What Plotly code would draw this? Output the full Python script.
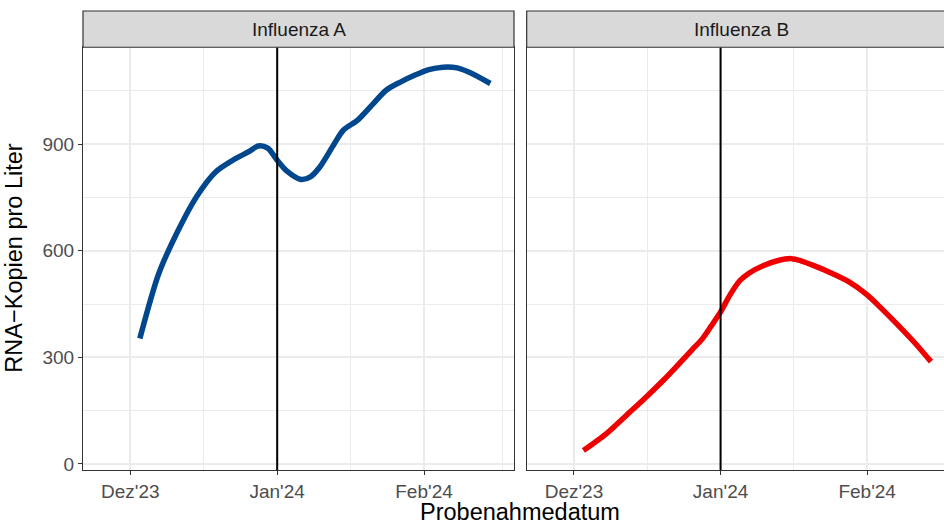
import plotly.graph_objects as go
import pandas as pd

# ---- data ----
panels = ["Influenza A", "Influenza B"]
flu_a_days = [2, 6, 10, 14, 18, 22, 25, 27, 29, 31, 33, 36, 38, 40, 43, 45, 48, 51, 54, 57, 60, 63, 66, 69, 72, 76]
flu_a_vals = [353, 536, 655, 753, 822, 858, 879, 895, 889, 855, 825, 801, 808, 836, 900, 940, 968, 1010, 1052, 1075, 1094, 1110, 1117, 1115, 1100, 1071]
flu_b_days = [2, 7, 11, 15, 19, 22, 25, 27, 29, 31, 33, 35, 37, 40, 43, 46, 48, 51, 54, 58, 62, 65, 68, 72, 75.5]
flu_b_vals = [38, 87, 136, 185, 237, 279, 322, 350, 388, 428, 476, 515, 537, 558, 572, 578, 572, 557, 540, 514, 476, 438, 398, 342, 288]
x_tick_vals = ["2023-12-01", "2024-01-01", "2024-02-01"]
x_tick_text = ["Dez'23", "Jan'24", "Feb'24"]
x_minor_vals = ["2023-12-16 12:00", "2024-01-16 12:00", "2024-02-17 12:00"]
y_tick_vals = [0, 300, 600, 900]
y_minor_vals = [150, 450, 750, 1050]
marker_date = "2024-01-01"
x_range = ["2023-11-21", "2024-02-20"]
y_range = [-17, 1173]

start = pd.Timestamp("2023-12-01")
a_dates = [start + pd.Timedelta(days=d) for d in flu_a_days]
b_dates = [start + pd.Timedelta(days=d) for d in flu_b_days]

FONT = "Liberation Sans, Arial, sans-serif"
GRID = "#EBEBEB"
BORDER = "#333333"

fig = go.Figure()
fig.add_trace(go.Scatter(x=a_dates, y=flu_a_vals, mode="lines", line=dict(color="#00478D", width=5.5, shape="spline", smoothing=0.8),
                         xaxis="x", yaxis="y", showlegend=False))
fig.add_trace(go.Scatter(x=b_dates, y=flu_b_vals, mode="lines", line=dict(color="#EE0000", width=5.5, shape="spline", smoothing=0.8),
                         xaxis="x2", yaxis="y2", showlegend=False))

# the right facet runs past the right edge of the 944 px window, as in the reference
W, H = 961, 524
L, R, T, B = 83, 4, 11, 54
pw = W - L - R
dom_left = [0, (514.0 - L) / pw]
dom_right = [(526.7 - L) / pw, 1]
ytop = 0.921

xcommon = dict(type="date", range=x_range, tickmode="array", tickvals=x_tick_vals, ticktext=x_tick_text,
               showgrid=True, gridcolor=GRID, gridwidth=1.6, zeroline=False,
               showline=True, mirror=True, linecolor=BORDER, linewidth=1.2,
               ticks="outside", ticklen=4, tickcolor=BORDER, tickwidth=1.2,
               tickfont=dict(family=FONT, size=19, color="#4D4D4D"),
               minor=dict(tickmode="array", tickvals=x_minor_vals, showgrid=True, gridcolor=GRID, gridwidth=0.8, ticks=""))
ycommon = dict(range=y_range, tickmode="array", tickvals=y_tick_vals,
               showgrid=True, gridcolor=GRID, gridwidth=1.6, zeroline=False,
               showline=True, mirror=True, linecolor=BORDER, linewidth=1.2,
               ticks="outside", ticklen=4, tickcolor=BORDER, tickwidth=1.2,
               tickfont=dict(family=FONT, size=19, color="#4D4D4D"),
               minor=dict(tickmode="array", tickvals=y_minor_vals, showgrid=True, gridcolor=GRID, gridwidth=0.8, ticks=""),
               domain=[0, ytop])

fig.update_layout(
    width=W, height=H,
    margin=dict(l=L, r=R, t=T, b=B),
    paper_bgcolor="white", plot_bgcolor="white",
    xaxis=dict(domain=dom_left, anchor="y", **xcommon),
    xaxis2=dict(domain=dom_right, anchor="y2", **xcommon),
    yaxis=dict(anchor="x", **ycommon),
    yaxis2=dict(anchor="x2", matches="y", showticklabels=False, **ycommon),
)
fig.update_layout(yaxis2=dict(ticks=""))

# vertical markers and strips
for xr, yr, dom, label in [("x", "y", dom_left, panels[0]), ("x2", "y2", dom_right, panels[1])]:
    fig.add_shape(type="line", xref=xr, yref=yr + " domain", x0=marker_date, x1=marker_date, y0=0, y1=1,
                  line=dict(color="black", width=2), layer="above")
    fig.add_shape(type="rect", xref="paper", yref="paper", x0=dom[0], x1=dom[1], y0=ytop, y1=1,
                  fillcolor="#D9D9D9", line=dict(color=BORDER, width=1.2), layer="above")
    fig.add_annotation(xref="paper", yref="paper", x=(dom[0] + dom[1]) / 2, y=(ytop + 1) / 2,
                       text=label, showarrow=False, xanchor="center", yanchor="middle",
                       font=dict(family=FONT, size=19, color="#1A1A1A"))

fig.add_annotation(xref="paper", yref="paper", x=0.5, y=0, yshift=-42, text="Probenahmedatum",
                   showarrow=False, xanchor="center", yanchor="middle", borderpad=0,
                   font=dict(family=FONT, size=23.5, color="black"))
fig.add_annotation(xref="paper", yref="paper", x=0, xshift=-69, y=ytop / 2, text="RNA\u2212Kopien pro Liter",
                   textangle=-90, showarrow=False, xanchor="center", yanchor="middle",
                   font=dict(family=FONT, size=23.5, color="black"))

fig.write_html("out.html", config={"displayModeBar": False},
               post_script="document.body.style.margin='0';document.body.style.overflow='hidden';")
